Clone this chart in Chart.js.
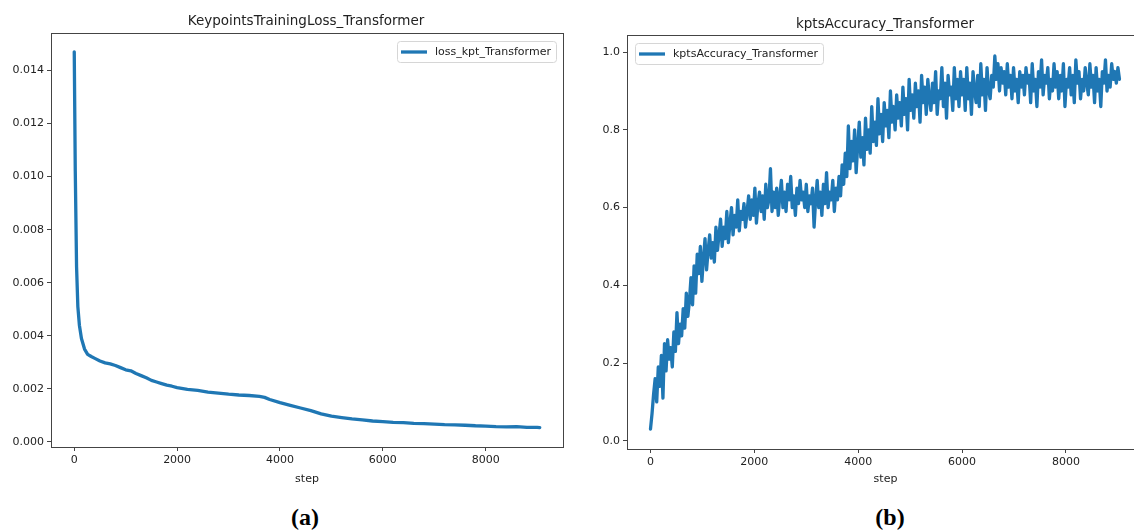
<!DOCTYPE html>
<html>
<head>
<meta charset="utf-8">
<script src="https://cdn.jsdelivr.net/npm/chart.js@4.4.1/dist/chart.umd.min.js"></script>
<style>
  body { margin: 0; width: 1134px; height: 531px; overflow: hidden; background: #fff; position: relative; }
  .wrap { position: absolute; top: 0; height: 500px; width: 600px; }
  #wrapA { left: 0; }
  #wrapB { left: 577px; }
  .title { position: absolute; font: 13.5px "DejaVu Sans", sans-serif; color: #222; transform: translate(-50%, -50%); white-space: nowrap; }
  .sub { position: absolute; font: bold 24px "Liberation Serif", "Times New Roman", serif; color: #000; transform: translate(-50%, -50%); }
</style>
</head>
<body>
<div class="wrap" id="wrapA"><canvas id="lossChart"></canvas></div>
<div class="wrap" id="wrapB"><canvas id="accChart"></canvas></div>
<div class="title" style="left:306px; top:20px;">KeypointsTrainingLoss_Transformer</div>
<div class="title" style="left:885px; top:23px;">kptsAccuracy_Transformer</div>
<div class="sub" style="left:305px; top:517px;">(a)</div>
<div class="sub" style="left:890px; top:517px;">(b)</div>
<script>
// datos
const lossSteps = [0, 20, 45, 70, 100, 140, 200, 260, 330, 400, 500, 600, 700, 800, 900,
    1000, 1100, 1200, 1300, 1400, 1500, 1600, 1700, 1800, 1900, 2000, 2200, 2400, 2600, 2800,
    3000, 3200, 3400, 3600, 3700, 3800, 4000, 4200, 4400, 4600, 4800, 5000, 5200, 5400, 5600,
    5800, 6000, 6200, 6400, 6600, 6800, 7000, 7200, 7400, 7600, 7800, 8000, 8200, 8400, 8600,
    8800, 9000, 9050];
const lossValues = [0.0147, 0.0102, 0.0066, 0.0051, 0.0044, 0.0039, 0.0035,
    0.0033, 0.00322, 0.00315, 0.00305, 0.00298, 0.00294, 0.00288, 0.00280,
    0.00272, 0.00268, 0.00258, 0.00250, 0.00242, 0.00232, 0.00226, 0.00220, 0.00214, 0.00210,
    0.00205, 0.00198, 0.00194, 0.00188, 0.00184, 0.00180, 0.00177, 0.00175, 0.00172, 0.00168,
    0.00160, 0.00148, 0.00138, 0.00128, 0.00118, 0.00106, 0.00097, 0.00092, 0.00087, 0.00083,
    0.00079, 0.00077, 0.00074, 0.00073, 0.00070, 0.00069, 0.00067, 0.00065, 0.00064, 0.00063,
    0.00061, 0.00060, 0.00058, 0.00057, 0.00058, 0.00055, 0.00055, 0.00054];

// precision registrada cada 30 pasos (una fila = 600 pasos)
const accLogEvery = 30;
const accValues = [
    0.03, 0.07, 0.12, 0.16, 0.10, 0.19, 0.14, 0.22, 0.11, 0.25, 0.18, 0.26, 0.21, 0.24, 0.19, 0.28, 0.23, 0.33, 0.25, 0.30,
    0.27, 0.34, 0.29, 0.38, 0.32, 0.36, 0.42, 0.35, 0.45, 0.38, 0.48, 0.43, 0.50, 0.41, 0.47, 0.52, 0.44, 0.49, 0.53, 0.47,
    0.51, 0.46, 0.55, 0.49, 0.53, 0.57, 0.50, 0.55, 0.52, 0.59, 0.51, 0.56, 0.60, 0.53, 0.58, 0.55, 0.62, 0.54, 0.59, 0.57,
    0.61, 0.55, 0.59, 0.63, 0.57, 0.62, 0.58, 0.65, 0.56, 0.61, 0.64, 0.59, 0.63, 0.57, 0.66, 0.60, 0.62, 0.70, 0.59, 0.64,
    0.60, 0.65, 0.58, 0.63, 0.67, 0.60, 0.64, 0.59, 0.66, 0.62, 0.68, 0.60, 0.63, 0.58, 0.65, 0.61, 0.67, 0.62, 0.64, 0.60,
    0.66, 0.59, 0.63, 0.61, 0.65, 0.55, 0.62, 0.67, 0.60, 0.64, 0.58, 0.66, 0.61, 0.69, 0.60, 0.64, 0.62, 0.67, 0.59, 0.65,
    0.62, 0.68, 0.63, 0.71, 0.66, 0.74, 0.68, 0.81, 0.70, 0.77, 0.72, 0.80, 0.69, 0.76, 0.82, 0.73, 0.78, 0.71, 0.83, 0.75,
    0.80, 0.74, 0.86, 0.77, 0.82, 0.76, 0.88, 0.79, 0.84, 0.77, 0.87, 0.81, 0.85, 0.78, 0.90, 0.82, 0.86, 0.80, 0.89, 0.83,
    0.87, 0.81, 0.91, 0.84, 0.88, 0.80, 0.93, 0.85, 0.89, 0.83, 0.92, 0.86, 0.90, 0.82, 0.94, 0.87, 0.91, 0.84, 0.93, 0.88,
    0.85, 0.92, 0.87, 0.95, 0.84, 0.90, 0.88, 0.96, 0.86, 0.92, 0.83, 0.94, 0.89, 0.91, 0.85, 0.96, 0.88, 0.93, 0.86, 0.95,
    0.89, 0.93, 0.85, 0.96, 0.88, 0.92, 0.84, 0.95, 0.90, 0.87, 0.94, 0.86, 0.97, 0.89, 0.93, 0.85, 0.96, 0.90, 0.88, 0.94,
    0.91, 0.99, 0.93, 0.97, 0.90, 0.96, 0.92, 0.95, 0.89, 0.97, 0.91, 0.94, 0.88, 0.96, 0.90, 0.93, 0.87, 0.95, 0.91, 0.94,
    0.89, 0.96, 0.92, 0.94, 0.87, 0.97, 0.90, 0.93, 0.86, 0.95, 0.91, 0.98, 0.89, 0.94, 0.92, 0.96, 0.88, 0.93, 0.90, 0.97,
    0.91, 0.95, 0.88, 0.94, 0.90, 0.97, 0.86, 0.93, 0.91, 0.96, 0.89, 0.94, 0.87, 0.98, 0.92, 0.95, 0.88, 0.93, 0.90, 0.96,
    0.92, 0.89, 0.97, 0.91, 0.94, 0.87, 0.96, 0.90, 0.93, 0.86, 0.95, 0.92, 0.98, 0.90, 0.94, 0.91, 0.97, 0.93, 0.95, 0.92,
    0.96, 0.93
];

const stepTicks = [0, 2000, 4000, 6000, 8000];
const lossTicks = [0, 0.002, 0.004, 0.006, 0.008, 0.010, 0.012, 0.014];
const accTicks = [0, 0.2, 0.4, 0.6, 0.8, 1.0];

const blue = "#1f77b4";
const tickColor = "#222";
const font = { family: "DejaVu Sans", size: 11 };

// marco completo alrededor del area del grafico
const frame = {
    id: "frame",
    afterDraw(chart) {
        const { ctx, chartArea: a } = chart;
        ctx.save();
        ctx.strokeStyle = "#444";
        ctx.lineWidth = 1;
        ctx.strokeRect(Math.round(a.left) + 0.5, Math.round(a.top) + 0.5,
            Math.round(a.right - a.left), Math.round(a.bottom - a.top));
        ctx.restore();
    }
};

// leyenda dentro del area, como en matplotlib
const insideLegend = {
    id: "insideLegend",
    afterDatasetsDraw(chart, args, opts) {
        const { ctx, chartArea: a } = chart;
        const ds = chart.data.datasets[0];
        ctx.save();
        ctx.font = '11px "DejaVu Sans"';
        const tw = ctx.measureText(ds.label).width;
        const w = Math.round(4 + 26 + 8 + tw + 5), h = 21;
        const x = Math.round(opts.side === "right" ? a.right - 7 - w : a.left + 8);
        const y = Math.round(a.top + 8);
        ctx.fillStyle = "rgba(255,255,255,0.85)";
        ctx.strokeStyle = "#d6d6d6";
        ctx.lineWidth = 1;
        ctx.beginPath();
        ctx.roundRect(x + 0.5, y + 0.5, w, h, 3);
        ctx.fill();
        ctx.stroke();
        ctx.strokeStyle = ds.borderColor;
        ctx.lineWidth = 3.3;
        ctx.beginPath();
        ctx.moveTo(x + 4, y + h / 2 + 0.5);
        ctx.lineTo(x + 30, y + h / 2 + 0.5);
        ctx.stroke();
        ctx.fillStyle = tickColor;
        ctx.textBaseline = "middle";
        ctx.fillText(ds.label, x + 38, y + h / 2 + 1);
        ctx.restore();
    }
};

function makeChart(id, label, points, yMin, yMax, yTicks, digits, yWidth, xHeight, pad, side) {
    return new Chart(document.getElementById(id), {
        type: "line",
        data: {
            datasets: [{
                label: label,
                data: points,
                borderColor: blue,
                borderWidth: 3.3,
                pointRadius: 0,
                tension: 0,
                borderJoinStyle: "round",
                borderCapStyle: "round"
            }]
        },
        options: {
            responsive: true,
            maintainAspectRatio: false,
            animation: false,
            layout: { padding: pad },
            scales: {
                x: {
                    type: "linear",
                    min: -452,
                    max: 9502,
                    afterBuildTicks: s => { s.ticks = stepTicks.map(v => ({ value: v })); },
                    afterFit: s => { s.height = xHeight; },
                    grid: { drawOnChartArea: false, drawTicks: true, tickLength: 4, color: "#444" },
                    border: { color: "#444" },
                    ticks: { color: tickColor, font: font, padding: 3, maxRotation: 0, callback: v => String(v) },
                    title: { display: true, text: "step", color: tickColor, font: font, padding: { top: 0, bottom: 14 } }
                },
                y: {
                    min: yMin,
                    max: yMax,
                    afterBuildTicks: s => { s.ticks = yTicks.map(v => ({ value: v })); },
                    afterFit: s => { s.width = yWidth; },
                    grid: { drawOnChartArea: false, drawTicks: true, tickLength: 4, color: "#444" },
                    border: { color: "#444" },
                    ticks: { color: tickColor, font: font, padding: 3, callback: v => Number(v).toFixed(digits) }
                }
            },
            plugins: {
                legend: { display: false },
                tooltip: { enabled: false },
                insideLegend: { side: side }
            }
        },
        plugins: [frame, insideLegend]
    });
}

document.addEventListener("DOMContentLoaded", function () {
    const lossPoints = lossSteps.map((s, i) => ({ x: s, y: lossValues[i] }));
    const accPoints = accValues.map((v, i) => ({ x: i * accLogEvery, y: v }));

    makeChart("lossChart", "loss_kpt_Transformer", lossPoints, -0.00019, 0.01541, lossTicks, 3,
        51, 53, { top: 33, right: 37, left: 0, bottom: 0 }, "right");
    makeChart("accChart", "kptsAccuracy_Transformer", accPoints, -0.021, 1.044, accTicks, 1,
        50, 51, { top: 35, right: 33, left: 0, bottom: 0 }, "left");
});
</script>
</body>
</html>
